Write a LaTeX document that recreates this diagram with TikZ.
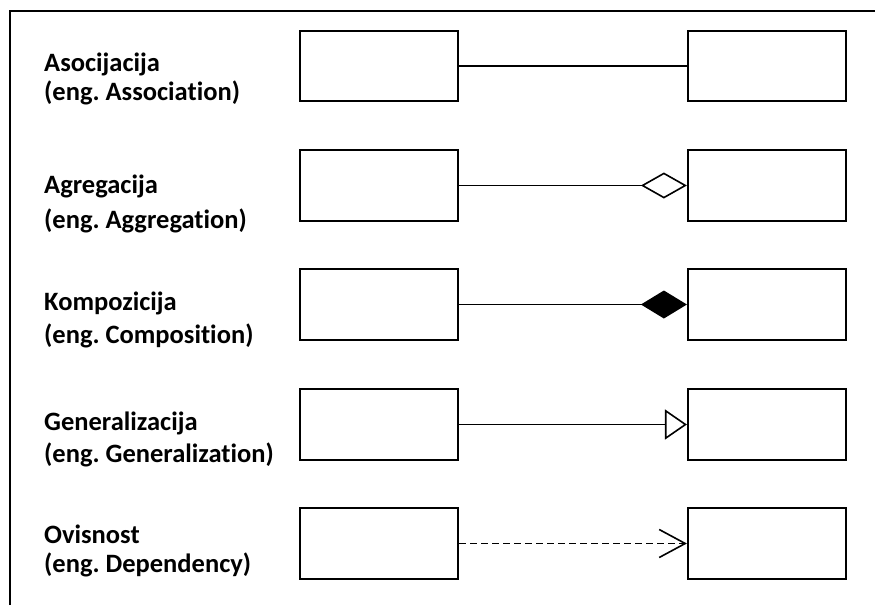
\documentclass[tikz,border=0pt]{standalone}
\usepackage{fontspec}
\setmainfont{Carlito}[Ligatures=NoCommon]
\frenchspacing
\usetikzlibrary{positioning,arrows.meta}

\begin{document}
\begin{tikzpicture}[x=1pt,y=-1pt,
  box/.style={draw, line width=1.7pt, minimum width=158.5pt, minimum height=70.5pt, inner sep=0pt},
  term/.style={anchor=base west, align=left, inner sep=0pt, font=\bfseries\fontsize{26.5}{29}\selectfont},
  link/.style={line width=1.6pt},
  frameline/.style={line width=1.8pt}]
\useasboundingbox (0,0) rectangle (875,605);
\draw [frameline] (10,605) -- (10,11) -- (875,11);
% association
\node [term] (t1) at (44,100) {Asocijacija\\(eng. Association)};
\node [box] (a1) at (379,66) {};
\node [box] (b1) at (767,66) {};
\draw [link] (a1.east) -- (b1.west);
% aggregation
\node [term, font=\bfseries\fontsize{26.5}{35}\selectfont] (t2) at (44,228) {Agregacija\\(eng. Aggregation)};
\node [box] (a2) at (379,185.5) {};
\node [box] (b2) at (767,185.5) {};
\draw [link, -{Diamond[open, length=46pt, width=26pt]}] (a2.east) -- (b2.west);
% composition
\node [term, font=\bfseries\fontsize{26.5}{33}\selectfont] (t3) at (44,343) {Kompozicija\\(eng. Composition)};
\node [box] (a3) at (379,304.5) {};
\node [box] (b3) at (767,304.5) {};
\draw [link, -{Diamond[length=46pt, width=28pt]}] (a3.east) -- (b3.west);
% generalization
\node [term, font=\bfseries\fontsize{26.5}{32}\selectfont] (t4) at (44,462) {Generalizacija\\(eng. Generalization)};
\node [box] (a4) at (379,424.5) {};
\node [box] (b4) at (767,424.5) {};
\draw [link, -{Triangle[open, length=22pt, width=30pt]}] (a4.east) -- (b4.west);
% dependency
\node [term] (t5) at (44,572) {Ovisnost\\(eng. Dependency)};
\node [box] (a5) at (379,543.5) {};
\node [box] (b5) at (767,543.5) {};
\draw [link, dash pattern=on 7pt off 4pt, -{Straight Barb[length=26pt, width=28pt]}] (a5.east) -- (b5.west);
\end{tikzpicture}
\end{document}
